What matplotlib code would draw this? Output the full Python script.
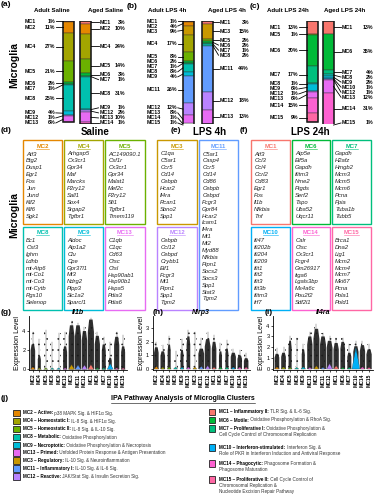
import matplotlib
matplotlib.use('Agg')
import matplotlib.pyplot as plt
from matplotlib.patches import Rectangle, Polygon
import numpy as np

W, H, DPI = 374, 500, 100
plt.rcParams['font.family'] = ['Liberation Sans', 'DejaVu Sans']
plt.rcParams['hatch.linewidth'] = 0.45

COLORS = {'MC1': '#F8766D', 'MC2': '#E58700', 'MC3': '#C99800', 'MC4': '#A3A500',
          'MC5': '#6BB100', 'MC6': '#00BA38', 'MC7': '#00BF7D', 'MC8': '#00C0AF',
          'MC9': '#00BCD8', 'MC10': '#00B0F6', 'MC11': '#619CFF', 'MC12': '#B983FF',
          'MC13': '#E76BF3', 'MC14': '#FD61D1', 'MC15': '#FF67A4'}

# ---------------- data: cluster proportions ----------------
adult_saline_clusters = ['MC1', 'MC2', 'MC4', 'MC5', 'MC6', 'MC7', 'MC8', 'MC9', 'MC12', 'MC13']
adult_saline_pct = [1, 11, 27, 21, 2, 1, 25, 4, 1, 6]
aged_saline_clusters = ['MC1', 'MC2', 'MC4', 'MC5', 'MC6', 'MC7', 'MC8', 'MC9', 'MC12', 'MC13', 'MC14']
aged_saline_pct = [3, 10, 24, 14, 3, 1, 31, 1, 2, 10, 1]

adult_lps4_clusters = ['MC1', 'MC2', 'MC3', 'MC4', 'MC5', 'MC6', 'MC7', 'MC8', 'MC9', 'MC11', 'MC12', 'MC13', 'MC14', 'MC15']
adult_lps4_pct = [1, 4, 9, 17, 8, 2, 1, 8, 4, 26, 12, 8, 1, 1]
aged_lps4_clusters = ['MC1', 'MC3', 'MC5', 'MC6', 'MC7', 'MC8', 'MC11', 'MC12', 'MC13']
aged_lps4_pct = [3, 15, 2, 2, 1, 2, 44, 18, 13]

adult_lps24_clusters = ['MC1', 'MC5', 'MC6', 'MC7', 'MC8', 'MC9', 'MC12', 'MC13', 'MC14', 'MC15']
adult_lps24_pct = [13, 1, 30, 17, 1, 6, 1, 6, 15, 9]
aged_lps24_clusters = ['MC1', 'MC6', 'MC7', 'MC8', 'MC9', 'MC10', 'MC12', 'MC13', 'MC14', 'MC15']
aged_lps24_pct = [13, 35, 4, 2, 2, 1, 1, 12, 31, 1]

# ---------------- data: marker genes ----------------
genes_MC2 = ['Atf3', 'Btg2', 'Dusp1', 'Egr1', 'Fos', 'Jun', 'Jund', 'Klf2', 'Klf6', 'Sgk1']
genes_MC4 = ['Arhgap5', 'Cx3cr1', 'Gpr34', 'Maf', 'Marcks', 'P2ry12', 'Sall1', 'Sox4', 'Srgap2', 'Tgfbr1']
genes_MC5 = ['AC149090.1', 'Csf1r', 'Cx3cr1', 'Gpr34', 'Malat1', 'Mef2c', 'P2ry12', 'Sfi1', 'Tgfbr1', 'Tmem119']
genes_MC8 = ['Bc1', 'Cst3', 'Ighm', 'Ldhb', 'mt-Atp6', 'mt-Co1', 'mt-Co3', 'mt-Cytb', 'Rgs10', 'Selenop']
genes_MC9 = ['Aldoc', 'Atp1a2', 'Clu', 'Cpe', 'Gpr37l1', 'Mt3', 'Ndrg2', 'Plpp3', 'Slc1a2', 'Sparcl1']
genes_MC13 = ['C1qb', 'C1qc', 'Cd63', 'Ctsc', 'Ctsl', 'Hsp90ab1', 'Hsp90b1', 'Hspa5', 'Pdia3', 'Pdia6']
genes_MC3 = ['C1qa', 'C5ar1', 'Ccr5', 'Cd14', 'Cebpb', 'Hcar2', 'Il4ra', 'Rcan1', 'Sbno2', 'Spp1']
genes_MC11 = ['C5ar1', 'Casp4', 'Ccr5', 'Cd14', 'Cd86', 'Cebpb', 'Cebpd', 'Fcgr3', 'Gpr84', 'Hcar2', 'Icam1',
              'Il4ra', 'Mt1', 'Mt2', 'Myd88', 'Nfkbia', 'Ptpn1', 'Socs2', 'Socs3', 'Spp1', 'Stat3', 'Tgm2']
genes_MC12 = ['Cebpb', 'Ccl12', 'Cebpd', 'Crybb1', 'Eif1', 'Fcgr3', 'Mt1', 'Ptpn1', 'Spp1', 'Tgm2']
genes_MC1 = ['Atf3', 'Ccl3', 'Ccl4', 'Ccrl2', 'Cd83', 'Egr1', 'Fos', 'Il1b', 'Nfkbia', 'Tnf']
genes_MC6 = ['Atp5e', 'Eif5a', 'Gapdh', 'Ifitm3', 'Nme2', 'Ptgds', 'Serf2', 'Tspo', 'Uba52', 'Uqcr11']
genes_MC7 = ['Gapdh', 'H2afz', 'Hmgb2', 'Mcm3', 'Mcm5', 'Mcm6', 'Pcna', 'Ppia', 'Tuba1b', 'Tubb5']
genes_MC10 = ['Ifi47', 'Ifi202b', 'Ifi204', 'Ifi209', 'Ifit1', 'Ifit2', 'Ifit3', 'Ifit3b', 'Ifitm3', 'Irf7']
genes_MC14 = ['Calr', 'Ctsc', 'Cx3cr1', 'Fcgr4', 'Gm26917', 'Itga6', 'Lgals3bp', 'Ms4a6c', 'Pou2f2', 'Sdf2l1']
genes_MC15 = ['Brca1', 'Dna2', 'Lig1', 'Mcm2', 'Mcm4', 'Mcm7', 'Mki67', 'Pcna', 'Pola1', 'Pold1']

# ---------------- data: expression summaries ----------------
vln_order = ['MC2', 'MC4', 'MC5', 'MC8', 'MC9', 'MC13', 'MC3', 'MC11', 'MC12', 'MC1', 'MC6', 'MC7', 'MC10', 'MC14', 'MC15']
il1b_max = [3.9, 3.2, 4.1, 2.9, 3.8, 3.9, 5.1, 4.8, 4.4, 5.4, 3.9, 3.4, 2.9, 3.9, 3.6]
il1b_bulk = [2.6, 1.4, 0.0, 0.0, 0.0, 2.4, 4.6, 4.6, 4.0, 5.2, 3.5, 2.6, 1.2, 3.4, 2.4]
il1b_dens = [0.75, 0.5, 0.3, 0.3, 0.3, 0.65, 0.95, 1.0, 0.9, 1.0, 0.85, 0.65, 0.5, 0.85, 0.65]
il1b_base = [0.25, 0.1, 0.05, 0.05, 0.05, 0.1, 0.5, 0.45, 0.45, 0.5, 0.05, 0.05, 0.6, 0.1, 0.1]

nlrp3_max = [2.0, 1.8, 2.4, 1.3, 2.2, 2.9, 2.7, 2.3, 2.7, 2.5, 1.9, 2.1, 1.5, 1.4, 1.2]
nlrp3_bulk = [1.6, 1.3, 1.8, 0.0, 1.4, 2.4, 0.0, 1.5, 2.2, 2.0, 1.3, 1.5, 1.2, 1.0, 0.8]
nlrp3_dens = [0.75, 0.75, 0.5, 0.3, 0.5, 0.6, 0.3, 0.95, 0.95, 0.75, 0.5, 0.5, 0.85, 0.75, 0.75]
nlrp3_base = [0.2, 0.05, 0.05, 0.05, 0.05, 0.05, 0.05, 0.2, 0.25, 0.05, 0.05, 0.05, 0.05, 0.1, 0.1]

il4ra_max = [1.9, 2.0, 3.0, 2.9, 2.3, 3.4, 4.1, 3.3, 3.0, 2.9, 2.9, 2.3, 2.6, 2.6, 2.3]
il4ra_bulk = [1.4, 1.5, 2.6, 0.0, 1.8, 3.0, 3.7, 3.0, 2.6, 2.4, 2.5, 1.5, 2.1, 2.2, 1.8]
il4ra_dens = [0.75, 0.75, 0.5, 0.3, 0.5, 0.85, 0.95, 0.95, 0.95, 0.85, 0.75, 0.65, 0.85, 0.85, 0.85]
il4ra_base = [0.2, 0.2, 0.05, 0.05, 0.2, 0.05, 0.3, 0.1, 0.5, 0.3, 0.05, 0.05, 2.0, 0.2, 0.1]

# ---------------- data: pathway legend ----------------
ipa_left = [('MC2', 'Active:', ['p38 MAPK Sig. & HIF1\u03b1 Sig.']),
            ('MC4', 'Homeostatic I:', ['IL-8 Sig. & HIF1\u03b1 Sig.']),
            ('MC5', 'Homeostatic II:', ['IL-8 Sig. & IL-10 Sig.']),
            ('MC8', 'Metabolic:', ['Oxidative Phosphorylation']),
            ('MC9', 'Necroptotic:', ['Oxidative Phosphorylation & Necroptosis']),
            ('MC13', 'Primed:', ['Unfolded Protein Response & Antigen Presentation']),
            ('MC3', 'Regulatory:', ['IL-10 Sig. & Neuroinflammation']),
            ('MC11', 'Inflammatory I:', ['IL-10 Sig. & IL-6 Sig.']),
            ('MC12', 'Reactive:', ['JAK/Stat Sig. & Insulin Secretion Sig.'])]
ipa_right = [('MC1', 'Inflammatory II:', ['TLR Sig. & IL-6 Sig.']),
             ('MC6', 'Motile:', ['Oxidative Phosphorylation & RhoA Sig.']),
             ('MC7', 'Proliferative I:', ['Oxidative Phosphorylation &', 'Cell Cycle Control of Chromosomal Replication']),
             ('MC10', 'Interferon-stimulated:', ['Interferon Sig. &', 'Role of PKR in Interferon Induction and Antiviral Response']),
             ('MC14', 'Phagocytic:', ['Phagosome Formation &', 'Phagosome Maturation']),
             ('MC15', 'Proliferative II:', ['Cell Cycle Control of', 'Chromosomal Replication &', 'Nucleotide Excision Repair Pathway'])]

# =====================================================================
fig = plt.figure(figsize=(W / DPI, H / DPI), dpi=DPI)


def px_axes(x0, y0, x1, y1, **kw):
    return fig.add_axes([x0 / W, 1 - y1 / H, (x1 - x0) / W, (y1 - y0) / H], **kw)


ov = px_axes(0, 0, W, H)
ov.set_xlim(0, W)
ov.set_ylim(H, 0)
ov.axis('off')

underline_texts = []


def panel_label(x, y, s):
    ov.text(x, y, s, fontsize=6, fontweight='bold', ha='left', va='center')


# ---------------- bar panels ----------------
BAR_W = 11
FS_LAB = 3.8


def label_positions(pct, gap=4.9):
    cum = np.concatenate([[0], np.cumsum(pct)])
    mids = (cum[:-1] + cum[1:]) / 2
    y = mids.copy()
    for i in range(1, len(y)):
        y[i] = max(y[i], y[i - 1] + gap)
    y[-1] = min(y[-1], 99.5)
    for i in range(len(y) - 2, -1, -1):
        y[i] = min(y[i], y[i + 1] - gap)
    return mids, y


def stacked(ax, xc, clusters, pct):
    cum = np.concatenate([[0], np.cumsum(pct)])
    ax.bar([xc] * len(pct), pct, bottom=cum[:-1], width=BAR_W,
           color=[COLORS[c] for c in clusters], edgecolor='#333333', linewidth=0.3)
    ax.add_patch(Rectangle((xc - BAR_W / 2, 0), BAR_W, cum[-1], fill=False,
                           edgecolor='#1a1a1a', linewidth=1.1))


def bar_side(ax, spec, side):
    (xc, cl, pc, xmc, xpct, title, tx) = spec
    stacked(ax, xc, cl, pc)
    mids, ys = label_positions(pc)
    for c, p, m, yy in zip(cl, pc, mids, ys):
        ax.text(xmc, yy, c, fontsize=FS_LAB, fontweight='bold', ha='left', va='center')
        ax.text(xpct, yy, f'{p}%', fontsize=FS_LAB, fontweight='bold', ha='right', va='center')
        if side == 'left':
            ax.plot([xpct + 0.8, xc - BAR_W / 2], [yy, m], color='black', lw=0.6, clip_on=False)
        else:
            ax.plot([xc + BAR_W / 2, xmc - 1.0], [m, yy], color='black', lw=0.6, clip_on=False)
    ax.text(tx, -9.5, title, fontsize=4.4, fontweight='bold', ha='center', va='center')


def bar_pair(x0, x1, left, right):
    ax = px_axes(x0, 20.5, x1, 123.5)
    ax.set_xlim(x0, x1)
    ax.set_ylim(100, 0)
    ax.axis('off')
    bar_side(ax, left, 'left')
    bar_side(ax, right, 'right')


bar_pair(0, 126, (68.5, adult_saline_clusters, adult_saline_pct, 25, 55, 'Adult Saline', 52),
         (85.5, aged_saline_clusters, aged_saline_pct, 99.5, 125.5, 'Aged Saline', 106))
bar_pair(126, 250, (188.5, adult_lps4_clusters, adult_lps4_pct, 147, 177, 'Adult LPS 4h', 167),
         (207, aged_lps4_clusters, aged_lps4_pct, 219.5, 249, 'Aged LPS 4h', 227))
bar_pair(250, 374, (312.5, adult_lps24_clusters, adult_lps24_pct, 270, 298, 'Adult LPS 24h', 288),
         (328, aged_lps24_clusters, aged_lps24_pct, 342, 373, 'Aged LPS 24h', 345))

panel_label(1, 5, '(a)')
panel_label(127, 6, '(b)')
panel_label(250, 6, '(c)')
ov.text(14, 65, 'Microglia', fontsize=7.5, fontweight='bold', rotation=90, ha='center', va='center')

# ---------------- gene boxes ----------------
GENE_FS = 4.2
LINE = 6.9


def gene_box(x0, y0, x1, y1, cl, genes):
    col = COLORS[cl]
    ov.add_patch(Rectangle((x0, y0), x1 - x0, y1 - y0, fill=False, edgecolor=col, linewidth=1.0))
    t = ov.text((x0 + x1) / 2, y0 + 6.2, cl, fontsize=GENE_FS, fontweight='bold', color=col,
                ha='center', va='center')
    underline_texts.append((t, col))
    for i, g in enumerate(genes):
        ov.text(x0 + 3.2, y0 + 14 + i * LINE, g, fontsize=GENE_FS, style='italic',
                ha='left', va='center', color='#222222')


R1 = (140, 223.5)
R2 = (226.5, 310)
gene_box(23, R1[0], 62, R1[1], 'MC2', genes_MC2)
gene_box(64, R1[0], 103, R1[1], 'MC4', genes_MC4)
gene_box(105, R1[0], 145, R1[1], 'MC5', genes_MC5)
gene_box(23, R2[0], 62, R2[1], 'MC8', genes_MC8)
gene_box(64, R2[0], 103, R2[1], 'MC9', genes_MC9)
gene_box(105, R2[0], 145, R2[1], 'MC13', genes_MC13)
gene_box(157, R1[0], 197, R1[1], 'MC3', genes_MC3)
gene_box(157, R2[0], 197, R2[1], 'MC12', genes_MC12)
gene_box(199, R1[0], 238, R2[1], 'MC11', genes_MC11)
gene_box(251, R1[0], 290, R1[1], 'MC1', genes_MC1)
gene_box(292, R1[0], 330, R1[1], 'MC6', genes_MC6)
gene_box(332, R1[0], 371, R1[1], 'MC7', genes_MC7)
gene_box(251, R2[0], 290, R2[1], 'MC10', genes_MC10)
gene_box(292, R2[0], 330, R2[1], 'MC14', genes_MC14)
gene_box(332, R2[0], 371, R2[1], 'MC15', genes_MC15)

panel_label(1, 131, '(d)')
panel_label(171, 130, '(e)')
panel_label(240, 130, '(f)')
ov.text(95, 132, 'Saline', fontsize=7, fontweight='bold', ha='center', va='center')
ov.text(210, 132, 'LPS 4h', fontsize=7, fontweight='bold', ha='center', va='center')
ov.text(310, 132, 'LPS 24h', fontsize=7, fontweight='bold', ha='center', va='center')
ov.text(14, 215, 'Microglia', fontsize=7.5, fontweight='bold', rotation=90, ha='center', va='center')


# ---------------- violin panels ----------------
def violin(x0, x1, gene, ylim, yticks, maxv, bulk, dens, base):
    ax = px_axes(x0, 316, x1, 370)
    n = len(vln_order)
    ax.set_xlim(-0.6, n - 0.4)
    ax.set_ylim(*ylim)
    for i, cl in enumerate(vln_order):
        ax.plot([i, i], [0, maxv[i]], color='#444444', lw=0.3, zorder=1)
        # sparse cloud of cells up to the maximum
        ax.add_patch(Rectangle((i - 0.3, 0), 0.6, maxv[i], facecolor='none',
                               edgecolor='#222222', lw=0, hatch='...', zorder=1))
        # dense body of cells
        w = 0.95 * dens[i]
        if bulk[i] > 0:
            b = bulk[i]
            body = [(i - w / 2, 0), (i - w / 2, 0.75 * b), (i - 0.28 * w, b), (i + 0.28 * w, b),
                    (i + w / 2, 0.75 * b), (i + w / 2, 0)]
            ax.add_patch(Polygon(body, closed=True, facecolor='#1a1a1a', edgecolor='none',
                                 lw=0, alpha=0.9, zorder=2))
        bw = 0.3 + 0.3 * min(base[i], 1)
        ax.add_patch(Polygon([(i - bw, 0), (i + bw, 0), (i, max(base[i], 0.15))],
                             closed=True, facecolor=COLORS[cl], edgecolor='#333333', lw=0.2, zorder=3))
    ax.set_xticks(range(n))
    ax.set_xticklabels(vln_order, rotation=90, fontsize=3.6, fontweight='bold')
    ax.set_yticks(yticks)
    ax.set_yticklabels([str(t) for t in yticks], fontsize=4)
    ax.tick_params(length=1.5, width=0.5, pad=1)
    for s in ['top', 'right']:
        ax.spines[s].set_visible(False)
    for s in ['left', 'bottom']:
        ax.spines[s].set_linewidth(0.6)
    ax.set_title(gene, fontsize=5, fontweight='bold', style='italic', pad=0.5)
    ax.set_ylabel('Expression Level', fontsize=5, labelpad=1)
    return ax


violin(29, 127, 'Il1b', (-0.07, 5.57), [0, 2, 4], il1b_max, il1b_bulk, il1b_dens, il1b_base)
violin(152.5, 250, 'Nlrp3', (-0.07, 3.9), [0, 1, 2, 3], nlrp3_max, nlrp3_bulk, nlrp3_dens, nlrp3_base)
violin(273, 373, 'Il4ra', (-0.09, 4.88), [0, 1, 2, 3, 4], il4ra_max, il4ra_bulk, il4ra_dens, il4ra_base)
panel_label(1, 313, '(g)')
panel_label(153, 313, '(h)')
panel_label(265, 313, '(i)')

# ---------------- IPA legend ----------------
panel_label(1, 399, '(j)')
tt = ov.text(183, 399, 'IPA Pathway Analysis of Microglia Clusters', fontsize=5.0, fontweight='bold',
             ha='center', va='center')
underline_texts.append((tt, 'black'))

LFS = 3.3


def ipa_entry(xs, xt, y, cl, bold, lines):
    ov.add_patch(Rectangle((xs, y - 3.3), 6.5, 6.5, facecolor=COLORS[cl], edgecolor='#222222', lw=0.6))
    b = ov.text(xt, y, f'{cl} \u2013 {bold}', fontsize=LFS, fontweight='bold', ha='left', va='center')
    ov.annotate(' ' + lines[0], xy=(1, 0.5), xycoords=b, fontsize=LFS, ha='left', va='center', color='#333333')
    for k, ln in enumerate(lines[1:]):
        ov.text(xt, y + 6 * (k + 1), ln, fontsize=LFS, ha='left', va='center', color='#333333')


left_y = [413, 421, 429, 437, 445, 452.5, 460.5, 468.5, 476.5]
for (cl, bold, lines), y in zip(ipa_left, left_y):
    ipa_entry(13.5, 23, y, cl, bold, lines)
right_y = [412, 420, 428.5, 447.5, 463.5, 479.5]
for (cl, bold, lines), y in zip(ipa_right, right_y):
    ipa_entry(209, 219.5, y, cl, bold, lines)

# underline titles
fig.canvas.draw()
inv = ov.transData.inverted()
for t, col in underline_texts:
    bb = t.get_window_extent()
    (xa, ya), (xb, yb) = inv.transform([[bb.x0, bb.y0], [bb.x1, bb.y1]])
    ov.plot([xa, xb], [ya + 0.2, ya + 0.2], color=col, lw=0.4)

fig.savefig('out.png', dpi=DPI)
